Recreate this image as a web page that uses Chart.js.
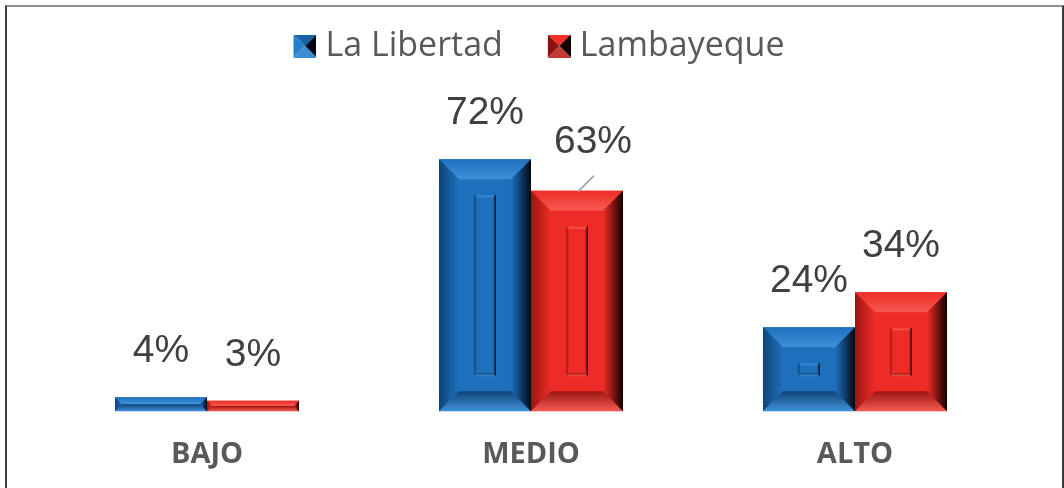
<!DOCTYPE html>
<html>
<head>
<meta charset="utf-8">
<script src="https://cdn.jsdelivr.net/npm/chart.js@4.4.1/dist/chart.umd.min.js"></script>
<style>
  html, body { margin: 0; padding: 0; background: #fff; }
  #wrap { position: relative; width: 1064px; height: 488px; overflow: hidden; }
  #frame { position: absolute; left: 5px; top: 5px; width: 1055px; height: 520px;
           border-left: 2px solid #3a3a3a; border-right: 2px solid #3a3a3a; border-top: 2px solid #8e8e8e; }
  canvas { position: absolute; left: 0; top: 0; }
</style>
</head>
<body>
<div id="wrap">
  <div id="frame"></div>
  <canvas id="nivelChart" width="1064" height="488"></canvas>
</div>
<script>
const categories = ['BAJO', 'MEDIO', 'ALTO'];
const laLibertad = [4, 72, 24];
const lambayeque = [3, 63, 34];
const seriesNames = ['La Libertad', 'Lambayeque'];

// colores del efecto biselado
const palettes = [
    { base: '#1e70bd', light: '#3f91d8', dark: '#0f4478', rightOut: '#010814',
      iconLeft: '#2280cc', iconTop: '#1a62a6', iconBottom: '#3d8fd4' },
    { base: '#ee2c27', light: '#f65a52', dark: '#9c1511', rightOut: '#120000',
      iconLeft: '#8a1111', iconTop: '#f03029', iconBottom: '#c43a35' }
];

function poly(g, pts, fill) {
    g.beginPath();
    g.moveTo(pts[0][0], pts[0][1]);
    for (let i = 1; i < pts.length; i++) g.lineTo(pts[i][0], pts[i][1]);
    g.closePath();
    g.fillStyle = fill;
    g.fill();
}

function grad(g, x0, y0, x1, y1, c0, c1) {
    const gr = g.createLinearGradient(x0, y0, x1, y1);
    gr.addColorStop(0, c0);
    gr.addColorStop(1, c1);
    return gr;
}

// icono de leyenda (29 px de ancho, dibujo de 23 px pegado a la derecha)
function makeIcon(p) {
    const c = document.createElement('canvas');
    c.width = 29; c.height = 23;
    const g = c.getContext('2d');
    g.translate(6, 0);
    const s = 23, m = 11.5;
    poly(g, [[0, 0], [s, 0], [m, m]], p.iconTop);
    poly(g, [[0, 0], [m, m], [0, s]], p.iconLeft);
    poly(g, [[s, 0], [s, s], [m, m]], p.rightOut);
    poly(g, [[0, s], [s, s], [m, m]], p.iconBottom);
    return c;
}
const icons = palettes.map(makeIcon);

function bevelRect(g, l, t, r, b, bw, p) {
    poly(g, [[l, t], [r, t], [r - bw, t + bw], [l + bw, t + bw]], grad(g, 0, t, 0, t + bw, p.base, p.light));
    poly(g, [[l, t], [l + bw, t + bw], [l + bw, b - bw], [l, b]], grad(g, l, 0, l + bw, 0, p.dark, p.base));
    poly(g, [[l, b], [r, b], [r - bw, b - bw], [l + bw, b - bw]], grad(g, 0, b - bw, 0, b, p.dark, p.light));
    poly(g, [[r, t], [r - bw, t + bw], [r - bw, b - bw], [r, b]], grad(g, r - bw, 0, r, 0, p.base, p.rightOut));
}

// etiquetas: ajuste de posicion (solo estilo)
const labelNudge = { '1-1': { dx: 16, dy: -3, leader: true } };

const legendShift = {
    id: 'legendShift',
    afterLayout(chart) {
        chart.legend.left += 9;
        chart.legend.right += 9;
    }
};

const barEffects = {
    id: 'barEffects',
    afterDatasetsDraw(chart) {
        const g = chart.ctx;
        g.save();
        chart.data.datasets.forEach((ds, di) => {
            const p = palettes[di];
            chart.getDatasetMeta(di).data.forEach((bar, i) => {
                const { x, y, base, width } = bar.getProps(['x', 'y', 'base', 'width'], true);
                const l = x - width / 2, r = x + width / 2;
                const t = Math.min(y, base), b = Math.max(y, base);
                const h = b - t;
                const bw = Math.min(20, h / 2, width / 2);
                bevelRect(g, l, t, r, b, bw, p);
                const ins = 35;
                if (h > ins * 2 + 6) {
                    const il = l + ins, ir = r - ins, it = t + ins, ib = b - ins;
                    g.fillStyle = p.base;
                    g.fillRect(il, it, ir - il, ib - it);
                    bevelRect(g, il, it, ir, ib, 3, p);
                }
            });
        });
        // etiquetas de porcentaje
        g.font = '39px "Liberation Sans", Arial, sans-serif';
        g.fillStyle = '#404040';
        g.textAlign = 'center';
        g.textBaseline = 'alphabetic';
        chart.data.datasets.forEach((ds, di) => {
            chart.getDatasetMeta(di).data.forEach((bar, i) => {
                const n = labelNudge[di + '-' + i] || { dx: 0, dy: 0 };
                g.fillText(ds.data[i] + '%', bar.x + n.dx, bar.y - 35 + n.dy);
                if (n.leader) {
                    g.strokeStyle = '#a6a6a6';
                    g.lineWidth = 2;
                    g.beginPath();
                    g.moveTo(bar.x + 1, bar.y + 1);
                    g.lineTo(bar.x + 17, bar.y - 15);
                    g.stroke();
                }
            });
        });
        g.restore();
    }
};

const ctx = document.getElementById('nivelChart').getContext('2d');
const nivelChart = new Chart(ctx, {
    type: 'bar',
    data: {
        labels: categories,
        datasets: [
            {
                label: seriesNames[0],
                data: laLibertad,
                backgroundColor: palettes[0].base,
                categoryPercentage: 0.568,
                barPercentage: 1.0
            },
            {
                label: seriesNames[1],
                data: lambayeque,
                backgroundColor: palettes[1].base,
                categoryPercentage: 0.568,
                barPercentage: 1.0
            }
        ]
    },
    options: {
        responsive: false,
        animation: false,
        layout: { padding: { left: 45, right: 47, top: -18, bottom: -10 } },
        plugins: {
            legend: {
                display: true,
                position: 'top',
                labels: {
                    usePointStyle: true,
                    boxWidth: 13,
                    boxHeight: 23,
                    padding: 47,
                    color: '#595959',
                    font: { family: 'Open Sans', size: 34 },
                    generateLabels: function(chart) {
                        const items = Chart.defaults.plugins.legend.labels.generateLabels(chart);
                        items.forEach((it, i) => { it.pointStyle = icons[i]; });
                        return items;
                    }
                }
            },
            tooltip: { enabled: false }
        },
        scales: {
            x: {
                grid: { display: false, drawTicks: false },
                border: { display: false },
                ticks: {
                    color: '#595959',
                    padding: 26,
                    font: { family: 'Open Sans', size: 29, weight: 'bold' }
                }
            },
            y: {
                display: false,
                min: 0,
                max: 96.6
            }
        }
    },
    plugins: [legendShift, barEffects]
});
</script>
</body>
</html>
